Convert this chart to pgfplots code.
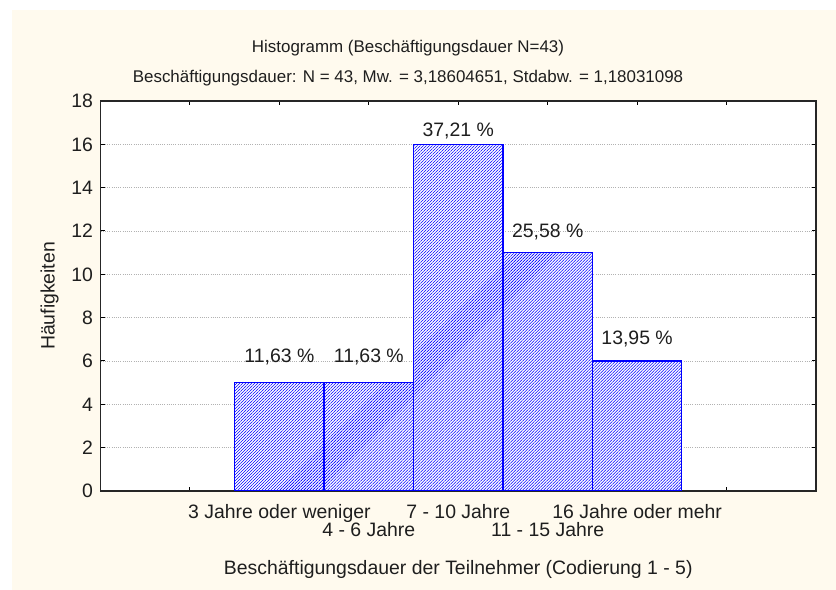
\documentclass[border=0pt]{standalone}
\usepackage{fontspec}
\setmainfont{Liberation Sans}
\usepackage{pgfplots}
\pgfplotsset{compat=1.18}
\usetikzlibrary{patterns.meta}
\definecolor{cream}{RGB}{255,250,238}
\definecolor{txt}{RGB}{30,30,30}
\begin{document}
\begin{tikzpicture}
\fill[white] (0,0) rectangle (836bp,590bp);
\fill[cream] (12bp,0) rectangle (836bp,580bp);
\begin{axis}[
  at={(100.5bp,99bp)}, anchor=south west,
  scale only axis, width=715.5bp, height=390bp,
  xmin=-1, xmax=7, ymin=0, ymax=18,
  axis background/.style={fill=white},
  axis line style={line width=1.2bp, black!85},
  xtick={0,...,6},
  xticklabels={{},{3 Jahre oder weniger},{},{7 - 10 Jahre},{},{16 Jahre oder mehr},{}},
  xticklabel style={yshift=-10bp},
  extra x ticks={2,4},
  extra x tick labels={{4 - 6 Jahre},{11 - 15 Jahre}},
  extra x tick style={major tick length=0pt, xticklabel style={yshift=-18bp}},
  ytick={0,2,...,18},
  tick align=inside, xtick pos=both, ytick pos=both,
  major tick length=4bp,
  tick style={black, line width=1bp},
  ymajorgrids, grid style={gray!60, dash pattern=on 1bp off 1.2bp, line width=0.7bp},
  tick label style={text=txt, font=\fontsize{19.5}{19.5}\selectfont, /pgf/number format/assume math mode=true},
  yticklabel style={xshift=-4bp},
  xlabel={Beschäftigungsdauer der Teilnehmer (Codierung 1 - 5)},
  xlabel style={at={(axis description cs:0.5,-0.2011)}, anchor=center, text=txt, font=\fontsize{19.5}{19.5}\selectfont},
  ylabel={Häufigkeiten},
  ylabel style={at={(axis description cs:-0.0713,0.5)}, anchor=center, text=txt, font=\fontsize{19.5}{19.5}\selectfont},
  title={Histogramm (Beschäftigungsdauer N=43)\\Beschäftigungsdauer: N = 43, Mw. = 3,18604651, Stdabw. = 1,18031098},
  title style={at={(axis description cs:0.4298,1.0826)}, anchor=center, align=center, text=txt, font=\fontsize{17}{30}\selectfont},
]
\addplot[ybar, bar width=1, bar shift=0pt, draw=blue, line width=1.3bp, fill=white,
  postaction={pattern={Lines[angle=45,distance=2.12bp,line width=0.55bp]}, pattern color=blue}]
  coordinates {(1,5) (2,5) (3,16) (4,11) (5,6)};
\addplot[draw=none, mark=none, nodes near coords, point meta=explicit symbolic,
  nodes near coords style={anchor=base, inner sep=0pt, text=txt, font=\fontsize{19.5}{19.5}\selectfont}]
  coordinates {(1,5.95) [11,63 \%] (2,5.95) [11,63 \%] (3,16.34) [37,21 \%] (4,11.7) [25,58 \%] (5,6.75) [13,95 \%]};
\end{axis}
\end{tikzpicture}
\end{document}
